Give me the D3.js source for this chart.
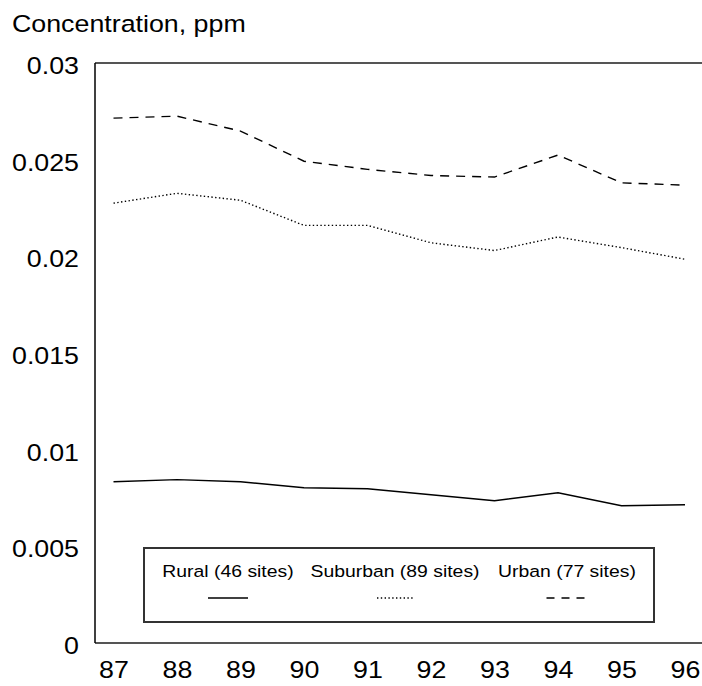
<!DOCTYPE html>
<html>
<head>
<meta charset="utf-8">
<script src="https://cdn.jsdelivr.net/npm/d3@7"></script>
<style>
  html, body { margin: 0; padding: 0; background: #fff; }
  svg { display: block; font-family: Arial, "Liberation Sans", sans-serif; }
</style>
</head>
<body>
<svg id="chart" width="702" height="686"></svg>
<script>
// Annual mean concentrations by site type, 1987-1996
const years = ["87", "88", "89", "90", "91", "92", "93", "94", "95", "96"];
const rural    = [0.00834, 0.00845, 0.00834, 0.00803, 0.00798, 0.00767, 0.00736, 0.00777, 0.00710, 0.00715];
const suburban = [0.02275, 0.02326, 0.02290, 0.02160, 0.02160, 0.02070, 0.02030, 0.02100, 0.02045, 0.01985];
const urban    = [0.02715, 0.02725, 0.02648, 0.02492, 0.02450, 0.02418, 0.02410, 0.02524, 0.02380, 0.02368];
const yTicks = [0, 0.005, 0.01, 0.015, 0.02, 0.025, 0.03];
const yTickLabels = ["0", "0.005", "0.01", "0.015", "0.02", "0.025", "0.03"];
const seriesNames = ["Rural (46 sites)", "Suburban (89 sites)", "Urban (77 sites)"];

const W = 702, H = 686;
const plot = { left: 95, top: 63, bottom: 643, right: 702 };
const stretch = "scale(1.14,1)";

const svg = d3.select("#chart");

const x = d3.scalePoint().domain(years).range([113.5, 685]);
const y = d3.scaleLinear().domain([0, 0.03]).range([plot.bottom, plot.top]);

// Frame: grey top and bottom rules, black left axis line
svg.append("line")
  .attr("x1", plot.left).attr("x2", plot.right)
  .attr("y1", plot.top).attr("y2", plot.top)
  .attr("stroke", "#555").attr("stroke-width", 2);
svg.append("line")
  .attr("x1", plot.left).attr("x2", plot.right)
  .attr("y1", plot.bottom).attr("y2", plot.bottom)
  .attr("stroke", "#555").attr("stroke-width", 2);
svg.append("line")
  .attr("x1", plot.left).attr("x2", plot.left)
  .attr("y1", plot.top).attr("y2", plot.bottom)
  .attr("stroke", "#000").attr("stroke-width", 1.5);

// Y axis labels
const yAxis = d3.axisLeft(y)
  .tickValues(yTicks)
  .tickFormat((d, i) => yTickLabels[i])
  .tickSize(0).tickPadding(0);
const gy = svg.append("g").attr("transform", `translate(${plot.left},0)`).call(yAxis);
gy.select(".domain").remove();
gy.selectAll("text")
  .attr("x", 0)
  .attr("text-anchor", "end")
  .attr("font-size", 23.5)
  .attr("font-family", "Arial, 'Liberation Sans', sans-serif")
  .attr("fill", "#000")
  .attr("transform", `translate(-16,3) ${stretch}`);

// X axis labels
const xAxis = d3.axisBottom(x).tickSize(0).tickPadding(0);
const gx = svg.append("g").attr("transform", `translate(0,${plot.bottom})`).call(xAxis);
gx.select(".domain").remove();
gx.selectAll("text")
  .attr("y", 0).attr("dy", 0)
  .attr("font-size", 23.5)
  .attr("font-family", "Arial, 'Liberation Sans', sans-serif")
  .attr("fill", "#000")
  .attr("transform", `translate(0,35) ${stretch}`);

// Axis title
svg.append("text")
  .attr("transform", `translate(12,32) ${stretch}`)
  .attr("font-size", 23.5)
  .attr("fill", "#000")
  .text("Concentration, ppm");

// Series lines
const styles = [
  { data: rural, dash: null, width: 1.4 },
  { data: suburban, dash: "1.4,2.4", width: 1.4 },
  { data: urban, dash: "9,7", width: 1.4 }
];
const line = d3.line().x((d, i) => x(years[i])).y(d => y(d));
styles.forEach(s => {
  svg.append("path")
    .datum(s.data)
    .attr("d", line)
    .attr("fill", "none")
    .attr("stroke", "#000")
    .attr("stroke-width", s.width)
    .attr("stroke-dasharray", s.dash);
});

// Legend
const legend = svg.append("g");
legend.append("rect")
  .attr("x", 144).attr("y", 548)
  .attr("width", 510).attr("height", 74)
  .attr("fill", "#fff")
  .attr("stroke", "#333").attr("stroke-width", 2);
const legendCenters = [228, 395, 567];
const sampleWidths = [40, 36, 41];
seriesNames.forEach((name, i) => {
  legend.append("text")
    .attr("transform", `translate(${legendCenters[i]},577) ${stretch}`)
    .attr("text-anchor", "middle")
    .attr("font-size", 17)
    .attr("fill", "#000")
    .text(name);
  legend.append("line")
    .attr("x1", legendCenters[i] - sampleWidths[i] / 2)
    .attr("x2", legendCenters[i] + sampleWidths[i] / 2)
    .attr("y1", 598).attr("y2", 598)
    .attr("stroke", "#000")
    .attr("stroke-width", styles[i].width)
    .attr("stroke-dasharray", i === 2 ? "8,7" : styles[i].dash);
});
</script>
</body>
</html>
